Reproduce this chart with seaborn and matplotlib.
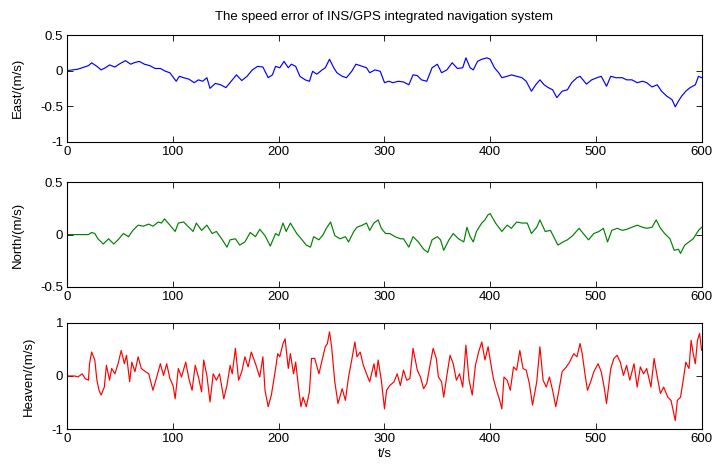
import numpy as np
import pandas as pd
import matplotlib
matplotlib.use("Agg")
import matplotlib.pyplot as plt
import seaborn as sns

# values (time in s, speed error in m/s)
east_t = [0, 10, 20, 23, 28, 32, 36, 40, 45, 50,
          55, 60, 63, 68, 73, 78, 83, 88, 93, 97,
          103, 106, 110, 115, 120, 124, 128, 132, 135, 140,
          145, 150, 155, 160, 165, 170, 175, 180, 185, 190,
          194, 197, 201, 205, 209, 212, 216, 220, 225, 229,
          232, 236, 241, 244, 248, 252, 255, 260, 264, 269,
          273, 279, 283, 286, 291, 296, 300, 304, 308, 313,
          318, 323, 327, 331, 335, 340, 345, 350, 354, 359,
          364, 369, 374, 377, 381, 384, 388, 392, 397, 400,
          404, 408, 411, 416, 420, 425, 430, 434, 439, 443,
          447, 451, 455, 459, 463, 468, 473, 477, 482, 485,
          491, 496, 501, 505, 510, 514, 519, 525, 529, 534,
          539, 544, 548, 553, 558, 562, 567, 572, 575, 578,
          581, 585, 589, 594, 597, 600]
east_v = [0, 0.02, 0.07, 0.11, 0.06, 0.01, 0.04, 0.08, 0.05, 0.1,
          0.14, 0.09, 0.11, 0.13, 0.09, 0.07, 0.03, 0.03, -0.01, -0.03,
          -0.15, -0.08, -0.1, -0.12, -0.17, -0.13, -0.15, -0.1, -0.25, -0.18,
          -0.2, -0.24, -0.15, -0.06, -0.14, -0.08, 0.01, 0.06, 0.05, -0.1,
          -0.06, 0.06, 0.04, 0.13, 0.04, 0.09, 0.06, -0.08, -0.13, -0.15,
          -0.01, -0.05, 0.01, 0.04, 0.16, 0.04, -0.03, -0.08, -0.1, -0.01,
          0.09, 0.06, 0.04, -0.03, 0.01, -0.01, -0.17, -0.15, -0.17, -0.15,
          -0.16, -0.2, -0.06, -0.07, -0.13, -0.15, 0.04, 0.09, -0.03, 0.01,
          0.11, 0.03, 0.04, 0.18, 0.04, 0.01, 0.13, 0.16, 0.18, 0.16,
          0.04, -0.03, -0.1, -0.08, -0.06, -0.08, -0.1, -0.15, -0.29, -0.2,
          -0.13, -0.2, -0.24, -0.27, -0.38, -0.29, -0.27, -0.17, -0.1, -0.08,
          -0.19, -0.13, -0.1, -0.08, -0.22, -0.08, -0.1, -0.1, -0.13, -0.13,
          -0.17, -0.15, -0.17, -0.23, -0.2, -0.29, -0.36, -0.41, -0.51, -0.43,
          -0.36, -0.29, -0.24, -0.2, -0.08, -0.1]

north_t = [0, 20, 23, 26, 29, 34, 39, 44, 48, 53,
           58, 62, 67, 72, 77, 81, 86, 89, 92, 97,
           102, 105, 110, 115, 119, 122, 127, 132, 137, 141,
           146, 151, 154, 159, 163, 168, 173, 178, 182, 187,
           192, 197, 200, 204, 207, 211, 214, 217, 222, 226,
           230, 233, 238, 242, 245, 249, 253, 258, 263, 266,
           271, 274, 279, 283, 286, 290, 294, 297, 301, 305,
           310, 315, 318, 323, 327, 332, 337, 341, 345, 350,
           353, 356, 361, 365, 370, 375, 378, 381, 384, 387,
           392, 395, 398, 400, 405, 411, 416, 420, 425, 430,
           435, 439, 444, 447, 452, 457, 461, 464, 469, 473,
           478, 484, 488, 493, 498, 503, 507, 511, 515, 520,
           525, 529, 534, 539, 544, 548, 553, 557, 561, 565,
           570, 574, 578, 580, 584, 588, 592, 597, 600]
north_v = [0, 0, 0.02, 0.01, -0.04, -0.09, -0.04, -0.09, -0.05, 0.01,
           -0.02, 0.04, 0.09, 0.08, 0.1, 0.08, 0.12, 0.11, 0.15, 0.09,
           0.03, 0.11, 0.12, 0.07, 0.03, 0.11, 0.04, 0.09, 0.01, 0.03,
           -0.04, -0.12, -0.05, -0.04, -0.1, -0.07, 0.02, -0.02, 0.05, -0.01,
           -0.11, 0.01, -0.01, 0.11, 0.03, 0.11, 0.06, 0.01, -0.05, -0.1,
           -0.12, -0.02, -0.05, 0, 0.06, 0.12, -0.01, -0.04, -0.02, -0.07,
           0.03, 0.07, 0.09, 0.11, 0.04, 0.11, 0.14, 0.06, 0.01, 0.01,
           -0.02, -0.04, -0.04, -0.12, -0.02, -0.07, -0.14, -0.17, -0.05, -0.02,
           -0.05, -0.15, -0.05, 0.01, -0.04, -0.07, 0.07, -0.02, -0.07, 0.03,
           0.11, 0.14, 0.19, 0.2, 0.11, 0.03, 0.09, 0.06, 0.12, 0.11,
           0.11, 0.01, 0.07, 0.14, 0.03, 0.04, -0.04, -0.1, -0.07, -0.05,
           -0.01, 0.06, 0.01, -0.05, 0.01, 0.03, 0.06, -0.07, 0.04, 0.06,
           0.04, 0.05, 0.07, 0.09, 0.07, 0.06, 0.07, 0.14, 0.06, 0.01,
           -0.04, -0.15, -0.14, -0.18, -0.1, -0.07, -0.04, 0.04, 0.07]

heaven_t = [0, 7, 10, 14, 17, 20, 21, 23, 26, 28,
            30, 32, 35, 37, 40, 42, 45, 48, 51, 54,
            56, 59, 61, 64, 67, 70, 74, 77, 81, 85,
            88, 91, 94, 97, 100, 102, 105, 108, 112, 115,
            118, 121, 124, 127, 129, 132, 135, 138, 141, 144,
            148, 151, 154, 156, 159, 162, 165, 168, 171, 174,
            178, 182, 185, 187, 190, 193, 197, 199,
            201, 204, 206, 209, 211, 214, 216, 219, 221, 223,
            226, 229, 231, 234, 238, 241, 244, 246, 248, 250,
            253, 256, 260, 263, 266, 269, 272, 274, 277, 280,
            283, 286, 290, 292, 294, 297, 300, 302, 305, 309,
            312, 315, 318, 321, 324, 327, 331, 334, 337, 340,
            343, 346, 349, 351, 354, 356, 359, 362, 365, 368,
            371, 374, 377, 380, 383, 386, 389, 392, 395, 398,
            400, 403, 406, 409, 411, 413, 416, 419, 422, 425,
            428, 431, 434, 437, 440, 444, 447, 450, 453, 456,
            459, 462, 465, 468, 472, 475, 479, 482, 485, 487,
            490, 492, 495, 498, 502, 505, 508, 510, 514, 517,
            520, 523, 526, 529, 532, 536, 539, 542, 545, 548,
            552, 555, 558, 561, 564, 568, 571, 573, 575, 577,
            580, 583, 585, 588, 590, 592, 594, 596, 598, 600]
heaven_v = [0, 0, -0.02, 0.04, -0.05, -0.08, 0.23, 0.45, 0.3, -0.08,
            -0.27, -0.36, -0.21, 0.2, -0.08, 0.14, 0.04, 0.23, 0.48, 0.23,
            0.39, -0.11, 0.26, 0.08, 0.36, 0.14, 0.08, 0.04, -0.27, 0.01,
            0.23, 0.01, 0.23, -0.05, -0.18, -0.43, 0.14, -0.02, 0.26, -0.05,
            -0.27, 0.2, -0.02, -0.3, 0.3, 0.01, -0.49, 0.04, -0.08, 0.04,
            -0.43, -0.18, 0.2, 0.04, 0.52, -0.08, 0.08, 0.36, 0.17, 0.45,
            0.23, -0.02, 0.36, -0.27, -0.58, -0.36, 0.14, 0.42,
            0.36, 0.61, 0.7, 0.14, 0.42, 0.04, 0.26, -0.27, -0.58, -0.4,
            -0.58, -0.3, 0.33, 0.33, 0.04, 0.3, 0.55, 0.61, 0.83, 0.55,
            -0.11, -0.52, -0.24, -0.46, -0.02, 0.3, 0.64, 0.36, 0.45, 0.2,
            0.04, -0.11, 0.23, -0.02, 0.3, -0.08, -0.62, -0.27, -0.18, -0.11,
            0.04, -0.18, 0.11, -0.08, -0.05, 0.52, 0.11, -0.02, -0.24, -0.14,
            0.2, 0.52, 0.33, -0.02, -0.11, -0.4, 0.01, 0.39, 0.23, -0.08,
            0.04, -0.21, 0.58, -0.08, -0.36, 0.2, 0.45, 0.64, 0.3, 0.55,
            0.3, -0.05, -0.27, -0.46, -0.62, -0.02, -0.08, -0.27, 0.17, 0.11,
            0.48, 0.14, 0.11, -0.14, -0.55, -0.11, 0.55, -0.08, -0.21, -0.02,
            -0.27, -0.58, -0.27, 0.08, 0.17, 0.26, 0.42, 0.36, 0.61, 0.42,
            -0.02, -0.27, -0.11, 0.08, 0.23, 0.08, -0.24, -0.52, 0.14, 0.33,
            0.39, 0.26, 0.01, 0.2, -0.08, 0.23, -0.21, 0.17, 0.04, 0.14,
            -0.21, 0.33, -0.02, -0.33, -0.21, -0.4, -0.46, -0.65, -0.84, -0.46,
            -0.4, -0.02, 0.26, 0.14, 0.67, 0.42, 0.23, 0.67, 0.8, 0.48]

x_ticks = [0, 100, 200, 300, 400, 500, 600]

sns.set_style("ticks")
plt.rcParams['font.family'] = ['Liberation Sans', 'DejaVu Sans']
plt.rcParams['axes.unicode_minus'] = False
plt.rcParams['font.size'] = 9
plt.rcParams['text.color'] = 'black'
plt.rcParams['axes.labelcolor'] = 'black'

fig = plt.figure(figsize=(7.16, 4.72), dpi=100)
fig.patch.set_facecolor('white')

panels = [
    (east_t, east_v, 'blue', 'East/(m/s)', (-1, 0.5), [-1, -0.5, 0, 0.5], [0.094, 0.700, 0.886, 0.2256]),
    (north_t, north_v, 'green', 'North/(m/s)', (-0.5, 0.5), [-0.5, 0, 0.5], [0.094, 0.392, 0.886, 0.222]),
    (heaven_t, heaven_v, 'red', 'Heaven/(m/s)', (-1, 1), [-1, 0, 1], [0.094, 0.091, 0.886, 0.225]),
]

axes = []
for t, v, col, lab, ylim, yt, pos in panels:
    ax = fig.add_axes(pos)
    df = pd.DataFrame({'t': t, 'v': v})
    sns.lineplot(data=df, x='t', y='v', ax=ax, color=col, linewidth=0.85)
    ax.set_xlim(0, 600)
    ax.set_ylim(*ylim)
    ax.set_xticks(x_ticks)
    ax.set_yticks(yt)
    ax.set_yticklabels(['%g' % y for y in yt])
    ax.set_ylabel(lab, fontsize=9.5, labelpad=12, color='black')
    ax.set_xlabel('')
    ax.tick_params(direction='in', top=True, right=True, length=4, width=0.6,
                   labelsize=9.5, pad=3, colors='black')
    for s in ax.spines.values():
        s.set_visible(True)
        s.set_linewidth(0.8)
        s.set_color('black')
    axes.append(ax)

axes[0].set_title('The speed error of INS/GPS integrated navigation system',
                  fontsize=9.5, pad=11, color='black')
axes[2].set_xlabel('t/s', fontsize=9.5, labelpad=2, color='black')
fig.align_ylabels(axes)

fig.savefig('out.png', dpi=100)
